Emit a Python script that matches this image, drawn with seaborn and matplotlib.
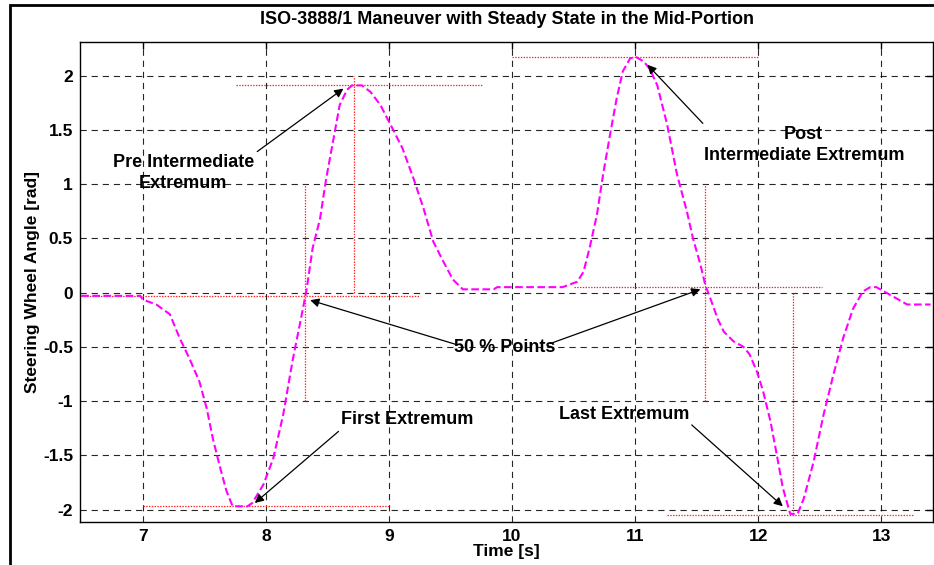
import numpy as np
import pandas as pd
import matplotlib
matplotlib.use("Agg")
import matplotlib.pyplot as plt
from matplotlib.patches import Rectangle
from matplotlib.ticker import FuncFormatter
import seaborn as sns

# ----------------------------------------------------------
# Data
# ----------------------------------------------------------

time_s = [
    6.50, 6.98, 7.00, 7.11, 7.22, 7.30, 7.38, 7.46, 7.52, 7.57,
    7.63, 7.68, 7.73, 7.85, 7.89, 7.98, 8.06, 8.14, 8.22, 8.28,
    8.33, 8.38, 8.44, 8.49, 8.55, 8.60, 8.66, 8.70, 8.78, 8.85,
    8.93, 9.03, 9.11, 9.20, 9.28, 9.36, 9.44, 9.52, 9.60, 9.85,
    9.88, 10.41, 10.53, 10.58, 10.63, 10.69, 10.74, 10.80, 10.85, 10.90,
    10.96, 11.01, 11.07, 11.12, 11.18, 11.26, 11.34, 11.42, 11.47, 11.53,
    11.57, 11.61, 11.67, 11.72, 11.80, 11.88, 11.93, 11.99, 12.04, 12.10,
    12.15, 12.20, 12.26, 12.32, 12.37, 12.45, 12.53, 12.61, 12.69, 12.77,
    12.85, 12.91, 12.96, 13.07, 13.21, 13.40,
]

angle_rad = [
    -0.03, -0.03, -0.065, -0.11, -0.20, -0.42, -0.61, -0.82, -1.07, -1.35,
    -1.62, -1.83, -1.97, -1.97, -1.94, -1.77, -1.53, -1.13, -0.61, -0.27,
    0.02, 0.41, 0.68, 1.05, 1.42, 1.73, 1.87, 1.91, 1.91, 1.85,
    1.73, 1.51, 1.33, 1.05, 0.78, 0.47, 0.29, 0.12, 0.03, 0.03,
    0.05, 0.05, 0.10, 0.19, 0.41, 0.72, 1.09, 1.48, 1.79, 2.04,
    2.16, 2.17, 2.13, 2.06, 1.91, 1.55, 1.09, 0.75, 0.50, 0.26,
    0.07, -0.05, -0.24, -0.36, -0.45, -0.50, -0.57, -0.73, -0.91, -1.19,
    -1.49, -1.80, -2.04, -2.04, -1.90, -1.56, -1.13, -0.76, -0.42, -0.15,
    0.01, 0.05, 0.05, -0.02, -0.11, -0.11,
]

# red dotted reference lines: (t0, t1, y0, y1)
ref_t0 = [6.50, 8.32, 7.76, 8.72, 7.00, 10.00, 10.50, 11.57, 12.28, 11.26]
ref_t1 = [9.25, 8.32, 9.76, 8.72, 9.00, 12.00, 12.52, 11.57, 12.28, 13.26]
ref_y0 = [-0.03, -1.00, 1.91, 0.00, -1.97, 2.17, 0.055, -1.00, 0.00, -2.05]
ref_y1 = [-0.03, 1.00, 1.91, 2.00, -1.97, 2.17, 0.055, 1.00, -2.05, -2.05]

# annotations: label, text position, arrow tails and tips
labels = ["Pre Intermediate\nExtremum", "Post\nIntermediate Extremum",
          "50 % Points", "First Extremum", "Last Extremum"]
label_t = [7.33, 12.37, 9.94, 9.15, 10.91]
label_y = [1.10, 1.36, -0.51, -1.17, -1.12]

arrow_tail_t = [7.93, 11.55, 9.55, 10.31, 8.59, 11.46]
arrow_tail_y = [1.30, 1.56, -0.48, -0.47, -1.28, -1.22]
arrow_tip_t = [8.63, 11.10, 8.36, 11.53, 7.91, 12.20]
arrow_tip_y = [1.88, 2.10, -0.07, 0.03, -1.94, -1.97]

x_ticks = [7, 8, 9, 10, 11, 12, 13]
y_ticks = [-2, -1.5, -1, -0.5, 0, 0.5, 1, 1.5, 2]

# ----------------------------------------------------------
# Style
# ----------------------------------------------------------

sns.set_theme(style="white")
plt.rcParams["font.family"] = ["Liberation Sans", "DejaVu Sans"]
plt.rcParams["font.weight"] = "bold"
plt.rcParams["text.color"] = "black"
plt.rcParams["axes.labelcolor"] = "black"
plt.rcParams["axes.titlecolor"] = "black"
plt.rcParams["axes.unicode_minus"] = False
plt.rcParams["lines.scale_dashes"] = False

W, H = 934, 565
fig = plt.figure(figsize=(W / 100, H / 100), dpi=100)
ax = fig.add_axes([80 / W, 1 - 522 / H, (933 - 80) / W, (522 - 42) / H])

# outer frame of the original figure window
fig.patches.append(Rectangle((10 / W, -0.2), 1.2, 1.2 - 5 / H,
                             transform=fig.transFigure, fill=False,
                             edgecolor="black", lw=2))

# ----------------------------------------------------------
# Plot
# ----------------------------------------------------------

df = pd.DataFrame({"Time": time_s, "Angle": angle_rad})

for t0, t1, y0, y1 in zip(ref_t0, ref_t1, ref_y0, ref_y1):
    ax.plot([t0, t1], [y0, y1], color="#ff2020", lw=0.9,
            linestyle=(0, (1, 1)), zorder=2)

sns.lineplot(data=df, x="Time", y="Angle", ax=ax, color="#ff00ff",
             lw=1.5, linestyle=(0, (5.5, 2.5)), estimator=None, zorder=3)

for txt, tx, ty in zip(labels, label_t, label_y):
    ax.text(tx, ty, txt, ha="center", va="center", fontsize=13,
            fontweight="bold", color="black", linespacing=1.3, zorder=5)

for t0, y0, t1, y1 in zip(arrow_tail_t, arrow_tail_y, arrow_tip_t, arrow_tip_y):
    ax.annotate("", xy=(t1, y1), xytext=(t0, y0),
                arrowprops=dict(arrowstyle="-|>", color="black", lw=0.9,
                                mutation_scale=13, shrinkA=0, shrinkB=0),
                zorder=5)

ax.set_xlim(6.49, 13.42)
ax.set_ylim(-2.115, 2.31)
ax.set_xticks(x_ticks)
ax.set_yticks(y_ticks)
ax.yaxis.set_major_formatter(FuncFormatter(lambda v, p: f"{v:g}"))

ax.grid(True, color="black", lw=0.8, linestyle=(0, (4.5, 3.5)), alpha=0.85)
ax.set_axisbelow(True)

ax.tick_params(direction="in", top=True, right=True, length=5, width=1,
               labelsize=12.5, colors="black", pad=5)
for lab in ax.get_xticklabels() + ax.get_yticklabels():
    lab.set_fontweight("bold")

for s in ax.spines.values():
    s.set_color("black")
    s.set_linewidth(1.0)

ax.set_title("ISO-3888/1 Maneuver with Steady State in the Mid-Portion",
             fontsize=13, fontweight="bold", pad=13, color="black")
ax.set_xlabel("Time [s]", fontsize=12.5, fontweight="bold", labelpad=0)
ax.set_ylabel("Steering Wheel Angle [rad]", fontsize=12.5, fontweight="bold",
              labelpad=2)

plt.savefig("out.png", dpi=100)
plt.close()
